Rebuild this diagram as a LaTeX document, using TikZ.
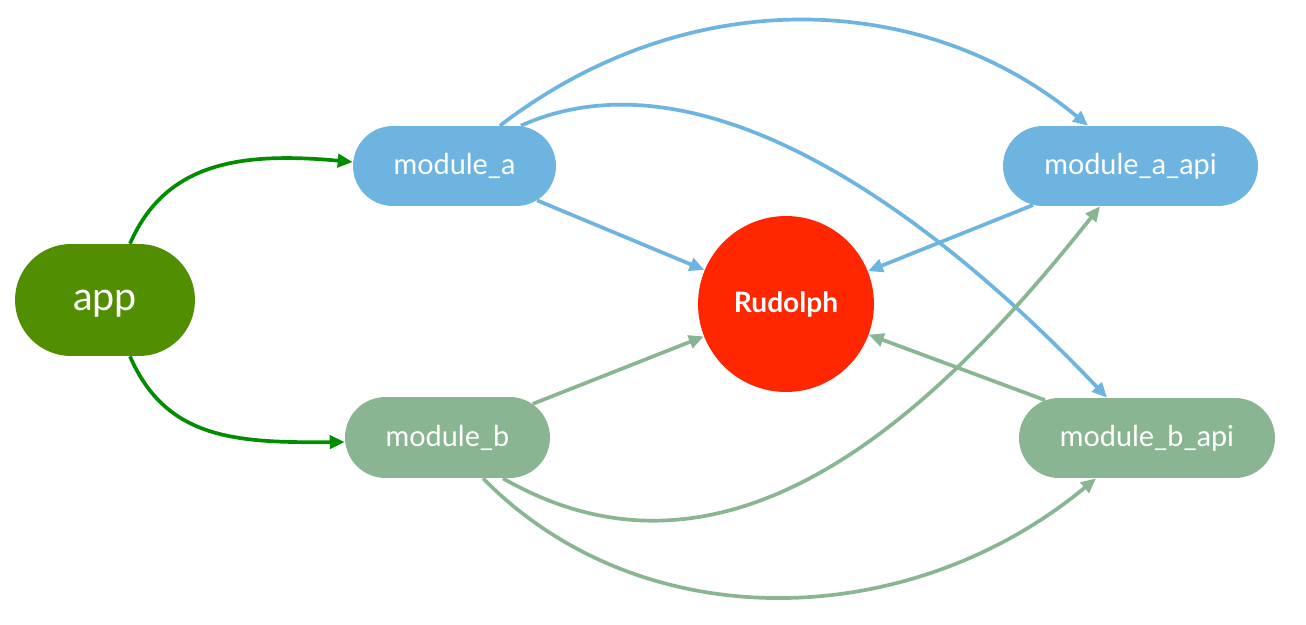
\documentclass[tikz,border=0pt]{standalone}
\usepackage{fontspec}
\setmainfont{Lato}
\usetikzlibrary{shapes.misc,arrows.meta}
\definecolor{appgreen}{RGB}{81,143,0}
\definecolor{modblue}{RGB}{110,180,225}
\definecolor{modgreen}{RGB}{138,181,147}
\definecolor{rudred}{RGB}{255,38,0}
\definecolor{arrgreen}{RGB}{0,142,0}
\tikzset{
  modbox/.style={rounded rectangle, inner sep=0pt, minimum height=1.6cm, text=white,
    font=\fontsize{16.4}{20}\selectfont},
  bluebox/.style={modbox, fill=modblue},
  greenbox/.style={modbox, fill=modgreen},
  edge/.style={line width=2.1pt, -{Triangle[length=8.5pt,width=7.5pt]}},
  blueedge/.style={edge, draw=modblue},
  greenedge/.style={edge, draw=modgreen},
  appedge/.style={edge, draw=arrgreen},
}
\begin{document}
\begin{tikzpicture}[x=0.02cm,y=-0.02cm]
\useasboundingbox[fill=white] (0,0) rectangle (1306,625);
\node[rounded rectangle, fill=appgreen, text=white, inner sep=0pt, text depth=0pt,
  minimum width=3.6cm, minimum height=2.24cm, font=\fontsize{22.5}{27}\selectfont] (app) at (105,300) {app};
\node[bluebox, minimum width=4.06cm] (ma) at (454.5,166) {module\_a};
\node[greenbox, minimum width=4.1cm, minimum height=1.62cm] (mb) at (447.5,437.5) {module\_b};
\node[bluebox, minimum width=5.1cm] (maa) at (1130.5,166) {module\_a\_api};
\node[greenbox, minimum width=5.12cm] (mba) at (1147,438) {module\_b\_api};
\node[circle, fill=rudred, text=white, inner sep=0pt, minimum size=3.52cm,
  font=\bfseries\fontsize{16}{19}\selectfont] (R) at (786,304) {Rudolph};

\draw[appedge] ([xshift=0.5cm]app.north) .. controls (166,161) and (243,152) .. ([yshift=0.08cm]ma.west);
\draw[appedge] ([xshift=0.5cm]app.south) .. controls (166,439) and (235,443) .. ([yshift=-0.09cm]mb.west);

\draw[blueedge] ([xshift=0.91cm]ma.north) .. controls (690,-20) and (925.8,-8.8) .. ([xshift=-0.85cm]maa.north);
\draw[blueedge] ([xshift=1.33cm]ma.north) .. controls (685,52) and (900,180) .. ([xshift=-0.8cm]mba.north);
\draw[blueedge] (ma) -- (R);
\draw[blueedge] (maa) -- (R);

\draw[greenedge] (mb) -- (R);
\draw[greenedge] (mba) -- (R);
\draw[greenedge] ([xshift=1.11cm]mb.south) .. controls (735,612) and (944,403) .. ([xshift=-0.61cm]maa.south);
\draw[greenedge] ([xshift=0.71cm]mb.south) .. controls (642,640) and (909,633) .. ([xshift=-1.02cm]mba.south);
\end{tikzpicture}
\end{document}
